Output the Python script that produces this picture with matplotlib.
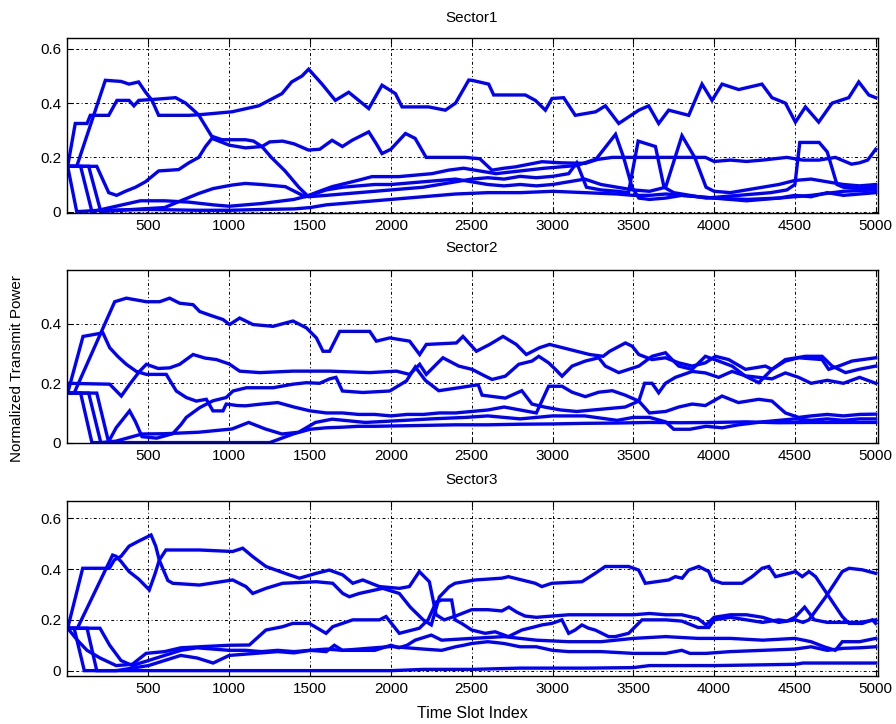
import matplotlib
matplotlib.use("Agg")
import matplotlib.pyplot as plt
from matplotlib.ticker import FuncFormatter

plt.rcParams['font.family'] = ['Liberation Sans', 'DejaVu Sans']

# ---------------- Sector 1 ----------------
S1_L1_X = [0, 56, 233, 330, 380, 439, 481, 522, 563, 687, 749, 811, 1017, 1182, 1326, 1386, 1450, 1491, 1574, 1656,
           1739, 1863, 1945, 2028, 2069, 2234, 2337, 2400, 2482, 2502, 2605, 2636, 2832, 2894, 2956, 2997, 3069, 3141,
           3267, 3327, 3410, 3534, 3595, 3657, 3719, 3843, 3925, 3987, 4049, 4152, 4296, 4358, 4441, 4503, 4565, 4647,
           4730, 4833, 4895, 4957, 5000]
S1_L1_Y = [0.167, 0.167, 0.484, 0.48, 0.47, 0.478, 0.441, 0.41, 0.355, 0.355, 0.355, 0.357, 0.368, 0.39, 0.435, 0.478,
           0.50, 0.525, 0.47, 0.41, 0.44, 0.38, 0.466, 0.435, 0.386, 0.386, 0.374, 0.40, 0.485, 0.484, 0.47, 0.43, 0.43,
           0.41, 0.374, 0.417, 0.42, 0.355, 0.368, 0.39, 0.325, 0.374, 0.39, 0.325, 0.374, 0.355, 0.47, 0.41, 0.47,
           0.45, 0.47, 0.42, 0.40, 0.33, 0.386, 0.33, 0.40, 0.42, 0.478, 0.43, 0.42]
S1_L2_X = [0, 47, 120, 140, 254, 305, 380, 410, 440, 560, 668, 730, 810, 891, 955, 1100, 1150, 1202, 1250, 1330,
           1400, 1490, 1560, 1636, 1700, 1760, 1863, 1910, 1945, 2000, 2090, 2150, 2218, 2300, 2461, 2550, 2625, 2700,
           2770, 2935, 3050, 3203, 3265, 3390, 3440, 3492, 3534, 3600, 3700, 3800, 3900, 4000, 4100, 4200, 4300, 4400,
           4500, 4600, 4700, 4800, 4900, 5000]
S1_L2_Y = [0.167, 0.325, 0.325, 0.355, 0.355, 0.41, 0.41, 0.39, 0.41, 0.415, 0.42, 0.40, 0.357, 0.278, 0.265, 0.265,
           0.26, 0.24, 0.257, 0.26, 0.25, 0.227, 0.23, 0.263, 0.24, 0.263, 0.294, 0.25, 0.214, 0.23, 0.288, 0.27, 0.2,
           0.2, 0.2, 0.195, 0.153, 0.16, 0.165, 0.184, 0.18, 0.178, 0.19, 0.285, 0.2, 0.09, 0.05, 0.045, 0.05, 0.06,
           0.055, 0.05, 0.045, 0.04, 0.045, 0.05, 0.06, 0.055, 0.07, 0.06, 0.065, 0.07]
S1_L3_X = [0, 180, 254, 303, 357, 420, 481, 563, 687, 750, 811, 853, 893, 1000, 1100, 1202, 1260, 1345, 1430, 1490,
           1600, 1700, 1800, 1900, 2000, 2100, 2200, 2300, 2400, 2500, 2600, 2700, 2800, 2900, 3000, 3100, 3150, 3210,
           3300, 3400, 3470, 3530, 3637, 3690, 3750, 3850, 3950, 4050, 4150, 4250, 4350, 4450, 4500, 4530, 4650, 4700,
           4760, 4800, 4900, 5000]
S1_L3_Y = [0.167, 0.167, 0.07, 0.06, 0.075, 0.09, 0.11, 0.15, 0.155, 0.18, 0.2, 0.24, 0.27, 0.245, 0.235, 0.24, 0.2,
           0.15, 0.09, 0.055, 0.06, 0.065, 0.07, 0.075, 0.08, 0.085, 0.09, 0.1, 0.11, 0.12, 0.125, 0.12, 0.13, 0.125,
           0.13, 0.14, 0.18, 0.09, 0.08, 0.075, 0.07, 0.26, 0.24, 0.09, 0.07, 0.06, 0.05, 0.055, 0.06, 0.065, 0.07,
           0.08, 0.1, 0.255, 0.255, 0.22, 0.1, 0.09, 0.085, 0.09]
S1_L4_X = [0, 130, 205, 400, 600, 700, 811, 900, 1017, 1099, 1200, 1347, 1470, 1553, 1636, 1800, 1883, 2048, 2254,
           2357, 2450, 2550, 2650, 2800, 2950, 3050, 3150, 3250, 3370, 3500, 3700, 3946, 4000, 4100, 4200, 4300, 4450,
           4550, 4650, 4750, 4850, 4900, 4950, 5000]
S1_L4_Y = [0.167, 0.167, 0.0, 0.008, 0.015, 0.04, 0.067, 0.085, 0.098, 0.104, 0.1, 0.092, 0.055, 0.074, 0.092, 0.116,
           0.129, 0.129, 0.14, 0.153, 0.16, 0.15, 0.14, 0.15, 0.16, 0.165, 0.17, 0.19, 0.2, 0.2, 0.2, 0.2, 0.185, 0.19,
           0.185, 0.19, 0.2, 0.19, 0.19, 0.2, 0.175, 0.18, 0.19, 0.23]
S1_L5_X = [0, 80, 150, 300, 450, 600, 750, 900, 1000, 1200, 1400, 1500, 1600, 1700, 1800, 1900, 2000, 2100, 2200,
           2300, 2400, 2500, 2600, 2700, 2800, 2900, 3000, 3100, 3200, 3300, 3400, 3500, 3600, 3700, 3801, 3880, 3950,
           4000, 4100, 4200, 4300, 4400, 4500, 4600, 4700, 4800, 4900, 5000]
S1_L5_Y = [0.167, 0.167, 0.0, 0.02, 0.04, 0.04, 0.035, 0.025, 0.02, 0.03, 0.045, 0.06, 0.08, 0.09, 0.095, 0.1, 0.1,
           0.105, 0.11, 0.115, 0.12, 0.11, 0.1, 0.095, 0.1, 0.095, 0.1, 0.11, 0.12, 0.1, 0.09, 0.08, 0.075, 0.09, 0.28,
           0.2, 0.09, 0.075, 0.07, 0.08, 0.09, 0.1, 0.115, 0.12, 0.11, 0.1, 0.095, 0.1]
S1_L6_X = [0, 56, 200, 500, 800, 1000, 1200, 1400, 1500, 1600, 1800, 2000, 2200, 2400, 2600, 2800, 3000, 3200, 3400,
           3500, 3600, 3700, 3800, 3900, 4000, 4200, 4400, 4600, 4800, 5000]
S1_L6_Y = [0.167, 0.0, 0.005, 0.008, 0.005, 0.005, 0.008, 0.01, 0.015, 0.025, 0.035, 0.045, 0.055, 0.065, 0.07, 0.07,
           0.075, 0.07, 0.065, 0.06, 0.06, 0.065, 0.06, 0.055, 0.05, 0.045, 0.05, 0.06, 0.075, 0.08]

# ---------------- Sector 2 ----------------
S2_L1_X = [0, 40, 291, 363, 487, 569, 631, 693, 776, 817, 879, 961, 1002, 1064, 1147, 1271, 1394, 1477, 1539, 1580,
           1621, 1683, 1869, 1910, 1993, 2116, 2178, 2219, 2405, 2446, 2529, 2611, 2694, 2776, 2838, 2920, 2982, 3106,
           3230, 3313, 3354, 3451, 3493, 3534, 3616, 3699, 3781, 3864, 3946, 4008, 4090, 4194, 4317, 4358, 4441, 4523,
           4668, 4709, 4771, 4853, 5000]
S2_L1_Y = [0.167, 0.167, 0.475, 0.487, 0.475, 0.475, 0.487, 0.47, 0.465, 0.442, 0.43, 0.415, 0.398, 0.42, 0.398,
           0.392, 0.41, 0.387, 0.353, 0.308, 0.308, 0.375, 0.375, 0.342, 0.353, 0.342, 0.297, 0.331, 0.336, 0.358,
           0.308, 0.331, 0.358, 0.331, 0.297, 0.32, 0.331, 0.314, 0.297, 0.291, 0.308, 0.336, 0.325, 0.297, 0.28,
           0.286, 0.269, 0.258, 0.269, 0.291, 0.28, 0.247, 0.258, 0.247, 0.275, 0.286, 0.28, 0.247, 0.258, 0.275, 0.286]
S2_L2_X = [0, 95, 157, 218, 260, 311, 363, 425, 487, 610, 672, 734, 796, 858, 899, 961, 981, 1050, 1100, 1200, 1300,
           1400, 1500, 1600, 1700, 1800, 1900, 2000, 2100, 2200, 2300, 2400, 2500, 2600, 2700, 2800, 2900, 2976, 3059,
           3121, 3203, 3286, 3370, 3450, 3534, 3570, 3616, 3657, 3699, 3760, 3864, 3946, 4028, 4111, 4194, 4276, 4358,
           4441, 4523, 4600, 4700, 4800, 4900, 5000]
S2_L2_Y = [0.167, 0.358, 0.364, 0.37, 0.32, 0.29, 0.264, 0.24, 0.23, 0.23, 0.174, 0.152, 0.14, 0.146, 0.107, 0.107,
           0.13, 0.125, 0.124, 0.13, 0.135, 0.12, 0.107, 0.1, 0.1, 0.095, 0.095, 0.09, 0.095, 0.095, 0.1, 0.1, 0.105,
           0.11, 0.12, 0.11, 0.1, 0.19, 0.19, 0.17, 0.155, 0.17, 0.175, 0.16, 0.14, 0.2, 0.2, 0.168, 0.2, 0.22, 0.24,
           0.235, 0.22, 0.24, 0.225, 0.22, 0.215, 0.235, 0.22, 0.2, 0.21, 0.2, 0.22, 0.2]
S2_L3_X = [0, 260, 332, 384, 446, 487, 560, 631, 693, 776, 850, 920, 1000, 1064, 1188, 1394, 1621, 1869, 2034, 2116,
           2178, 2219, 2281, 2322, 2420, 2502, 2584, 2626, 2708, 2791, 2873, 2915, 2976, 3018, 3059, 3121, 3203, 3286,
           3327, 3410, 3472, 3534, 3616, 3699, 3740, 3781, 3864, 3946, 4028, 4111, 4194, 4276, 4358, 4441, 4565, 4668,
           4730, 4813, 4895, 5000]
S2_L3_Y = [0.2, 0.197, 0.157, 0.197, 0.241, 0.264, 0.25, 0.252, 0.264, 0.297, 0.285, 0.28, 0.265, 0.241, 0.236, 0.241,
           0.241, 0.236, 0.241, 0.23, 0.264, 0.23, 0.264, 0.286, 0.258, 0.247, 0.224, 0.213, 0.224, 0.264, 0.275, 0.291,
           0.269, 0.247, 0.224, 0.258, 0.275, 0.286, 0.258, 0.236, 0.247, 0.258, 0.291, 0.303, 0.28, 0.258, 0.247,
           0.291, 0.275, 0.258, 0.224, 0.202, 0.247, 0.28, 0.291, 0.291, 0.258, 0.236, 0.247, 0.258]
S2_L4_X = [0, 80, 150, 250, 300, 383, 420, 460, 550, 650, 700, 734, 817, 899, 981, 1023, 1106, 1271, 1394, 1477, 1559,
           1621, 1660, 1700, 1827, 1993, 2096, 2151, 2213, 2296, 2420, 2540, 2564, 2708, 2810, 2873, 2950, 3050, 3150,
           3250, 3350, 3450, 3534, 3600, 3700, 3781, 3864, 3946, 4049, 4150, 4276, 4358, 4441, 4523, 4600, 4700, 4800,
           4900, 5000]
S2_L4_Y = [0.167, 0.167, 0.0, 0.0, 0.05, 0.107, 0.07, 0.02, 0.015, 0.03, 0.06, 0.085, 0.118, 0.141, 0.152, 0.174,
           0.185, 0.185, 0.197, 0.202, 0.2, 0.215, 0.22, 0.174, 0.169, 0.174, 0.208, 0.255, 0.21, 0.175, 0.185, 0.195,
           0.16, 0.15, 0.175, 0.13, 0.12, 0.11, 0.105, 0.11, 0.115, 0.12, 0.14, 0.1, 0.105, 0.12, 0.13, 0.125, 0.157,
           0.135, 0.146, 0.14, 0.1, 0.085, 0.09, 0.095, 0.09, 0.095, 0.096]
S2_L5_X = [0, 130, 205, 300, 400, 460, 600, 811, 1017, 1120, 1223, 1326, 1429, 1533, 1636, 1842, 2048, 2250, 2461,
           2600, 2800, 3000, 3200, 3400, 3500, 3600, 3700, 3750, 3850, 3950, 4050, 4150, 4300, 4400, 4500, 4600, 4700,
           4800, 4900, 5000]
S2_L5_Y = [0.167, 0.167, 0.0, 0.005, 0.02, 0.029, 0.03, 0.035, 0.046, 0.068, 0.046, 0.029, 0.035, 0.068, 0.079, 0.068,
           0.074, 0.08, 0.085, 0.09, 0.08, 0.09, 0.09, 0.075, 0.085, 0.085, 0.07, 0.045, 0.045, 0.055, 0.05, 0.06, 0.07,
           0.075, 0.08, 0.075, 0.08, 0.075, 0.08, 0.08]
S2_L6_X = [0, 180, 254, 800, 1250, 1300, 1400, 1500, 1600, 1700, 1800, 1900, 2000, 2200, 2400, 2600, 2800, 3000, 3200,
           3400, 3600, 3800, 4000, 4200, 4400, 4600, 4800, 5000]
S2_L6_Y = [0.167, 0.167, 0.0, 0.0, 0.0, 0.01, 0.03, 0.045, 0.05, 0.052, 0.055, 0.055, 0.056, 0.058, 0.06, 0.06, 0.062,
           0.063, 0.065, 0.066, 0.068, 0.067, 0.068, 0.07, 0.067, 0.068, 0.068, 0.068]

# ---------------- Sector 3 ----------------
S3_L1_X = [0, 93, 258, 289, 330, 380, 440, 516, 545, 567, 590, 620, 650, 815, 1021, 1103, 1145, 1227, 1330, 1537, 1640,
           1702, 1743, 1805, 1949, 2052, 2120, 2200, 2250, 2300, 2360, 2397, 2521, 2686, 2727, 2893, 2934, 2996, 3182,
           3264, 3326, 3471, 3533, 3574, 3719, 3760, 3802, 3843, 3905, 3967, 3988, 4050, 4173, 4235, 4297, 4339, 4380,
           4463, 4504, 4545, 4587, 4628, 4690, 4793, 4835, 4917, 4979, 5000]
S3_L1_Y = [0.167, 0.403, 0.403, 0.436, 0.45, 0.49, 0.51, 0.534, 0.49, 0.435, 0.40, 0.355, 0.344, 0.337, 0.357, 0.331,
           0.304, 0.324, 0.344, 0.35, 0.344, 0.304, 0.291, 0.304, 0.324, 0.304, 0.25, 0.2, 0.18, 0.29, 0.33, 0.344,
           0.357, 0.364, 0.37, 0.344, 0.331, 0.344, 0.35, 0.383, 0.41, 0.41, 0.396, 0.344, 0.357, 0.37, 0.364, 0.396,
           0.41, 0.39, 0.357, 0.344, 0.344, 0.37, 0.403, 0.41, 0.37, 0.383, 0.39, 0.37, 0.39, 0.37, 0.311, 0.213, 0.186,
           0.186, 0.2, 0.186]
S3_L2_X = [0, 60, 278, 300, 330, 380, 440, 505, 540, 567, 608, 815, 1021, 1083, 1145, 1227, 1372, 1434, 1537, 1619,
           1702, 1764, 1826, 1929, 2052, 2114, 2176, 2238, 2280, 2330, 2400, 2500, 2600, 2686, 2730, 2780, 2830, 2900,
           3000, 3100, 3200, 3300, 3400, 3500, 3600, 3700, 3800, 3900, 3950, 4000, 4100, 4200, 4300, 4400, 4500, 4550,
           4587, 4690, 4793, 4835, 4917, 5000]
S3_L2_Y = [0.167, 0.167, 0.455, 0.45, 0.43, 0.39, 0.36, 0.318, 0.38, 0.435, 0.475, 0.475, 0.469, 0.482, 0.449, 0.41,
           0.377, 0.364, 0.383, 0.396, 0.377, 0.344, 0.357, 0.331, 0.324, 0.331, 0.39, 0.35, 0.22, 0.2, 0.215, 0.24,
           0.24, 0.235, 0.25, 0.23, 0.215, 0.21, 0.215, 0.22, 0.22, 0.22, 0.22, 0.22, 0.225, 0.22, 0.22, 0.205, 0.18,
           0.21, 0.22, 0.22, 0.21, 0.19, 0.2, 0.19, 0.2, 0.29, 0.39, 0.403, 0.397, 0.383]
S3_L3_X = [0, 60, 120, 200, 300, 400, 485, 600, 700, 815, 1000, 1124, 1227, 1330, 1392, 1495, 1599, 1640, 1764, 1929,
           1970, 2052, 2176, 2230, 2280, 2314, 2376, 2397, 2438, 2500, 2583, 2645, 2727, 2810, 2893, 2934, 2996, 3058,
           3100, 3140, 3182, 3223, 3264, 3347, 3388, 3471, 3554, 3600, 3700, 3800, 3900, 3967, 4000, 4100, 4200, 4300,
           4400, 4450, 4500, 4560, 4620, 4700, 4800, 4900, 5000]
S3_L3_Y = [0.167, 0.12, 0.08, 0.05, 0.02, 0.025, 0.068, 0.075, 0.09, 0.094, 0.1, 0.101, 0.16, 0.173, 0.186, 0.186,
           0.147, 0.173, 0.2, 0.2, 0.213, 0.147, 0.167, 0.2, 0.27, 0.278, 0.278, 0.2, 0.186, 0.16, 0.147, 0.153, 0.134,
           0.16, 0.173, 0.18, 0.186, 0.2, 0.147, 0.16, 0.18, 0.167, 0.16, 0.134, 0.134, 0.147, 0.2, 0.2, 0.2, 0.195,
           0.17, 0.17, 0.2, 0.21, 0.2, 0.19, 0.2, 0.195, 0.21, 0.25, 0.2, 0.19, 0.19, 0.19, 0.2]
S3_L4_X = [0, 200, 260, 330, 400, 500, 600, 700, 800, 900, 1000, 1100, 1200, 1300, 1400, 1500, 1600, 1650, 1700, 1800,
           1900, 2000, 2050, 2100, 2150, 2250, 2314, 2500, 2700, 2900, 3100, 3300, 3500, 3700, 3900, 4100, 4300, 4500,
           4600, 4680, 4750, 4793, 4900, 5000]
S3_L4_Y = [0.167, 0.167, 0.1, 0.04, 0.02, 0.04, 0.06, 0.08, 0.09, 0.085, 0.08, 0.08, 0.075, 0.08, 0.075, 0.08, 0.075,
           0.1, 0.08, 0.08, 0.08, 0.1, 0.09, 0.1, 0.12, 0.14, 0.12, 0.127, 0.134, 0.12, 0.114, 0.114, 0.127, 0.134,
           0.127, 0.127, 0.12, 0.127, 0.114, 0.094, 0.08, 0.114, 0.114, 0.127]
S3_L5_X = [0, 120, 180, 300, 500, 600, 700, 800, 900, 1000, 1100, 1200, 1300, 1400, 1500, 1600, 1700, 1800, 1900,
           2000, 2100, 2200, 2314, 2400, 2450, 2500, 2600, 2700, 2800, 2900, 3000, 3100, 3300, 3500, 3700, 3800, 3850,
           3950, 4100, 4300, 4500, 4600, 4700, 4800, 4900, 5000]
S3_L5_Y = [0.167, 0.167, 0.0, 0.0, 0.02, 0.04, 0.06, 0.05, 0.03, 0.06, 0.065, 0.07, 0.075, 0.07, 0.08, 0.085, 0.08,
           0.085, 0.09, 0.095, 0.09, 0.085, 0.08, 0.094, 0.1, 0.107, 0.114, 0.107, 0.094, 0.094, 0.08, 0.075, 0.075,
           0.068, 0.068, 0.08, 0.068, 0.068, 0.075, 0.08, 0.085, 0.094, 0.08, 0.088, 0.09, 0.094]
S3_L6_X = [0, 40, 103, 2000, 2200, 2500, 2800, 3200, 3500, 3600, 4000, 4500, 4550, 5000]
S3_L6_Y = [0.167, 0.167, 0.0, 0.0, 0.005, 0.005, 0.01, 0.01, 0.012, 0.02, 0.02, 0.025, 0.03, 0.03]

TITLES = ["Sector1", "Sector2", "Sector3"]
X_TICKS = [500, 1000, 1500, 2000, 2500, 3000, 3500, 4000, 4500, 5000]
Y_TICKS = [[0, 0.2, 0.4, 0.6], [0, 0.2, 0.4], [0, 0.2, 0.4, 0.6]]
Y_LIMS = [(-0.005, 0.64), (-0.003, 0.582), (-0.021, 0.669)]

SECTORS = [
    [(S1_L1_X, S1_L1_Y), (S1_L2_X, S1_L2_Y), (S1_L3_X, S1_L3_Y), (S1_L4_X, S1_L4_Y), (S1_L5_X, S1_L5_Y), (S1_L6_X, S1_L6_Y)],
    [(S2_L1_X, S2_L1_Y), (S2_L2_X, S2_L2_Y), (S2_L3_X, S2_L3_Y), (S2_L4_X, S2_L4_Y), (S2_L5_X, S2_L5_Y), (S2_L6_X, S2_L6_Y)],
    [(S3_L1_X, S3_L1_Y), (S3_L2_X, S3_L2_Y), (S3_L3_X, S3_L3_Y), (S3_L4_X, S3_L4_Y), (S3_L5_X, S3_L5_Y), (S3_L6_X, S3_L6_Y)],
]

W, H = 896, 724
fig = plt.figure(figsize=(W / 100, H / 100), dpi=100)

# axes boxes in pixels: (left, top, right, bottom)
boxes = [(66.7, 38, 878, 213), (66.7, 270, 878, 443.5), (66.7, 500.7, 878, 676)]
title_y = [18, 248, 480]

fmt = FuncFormatter(lambda v, _: "0" if abs(v) < 1e-9 else f"{v:g}")

for i, (l, t, r, b) in enumerate(boxes):
    ax = fig.add_axes([l / W, 1 - b / H, (r - l) / W, (b - t) / H])
    for xs, ys in SECTORS[i]:
        ax.plot(xs, ys, color=(0, 0, 1), linewidth=2.4, solid_joinstyle='miter')
    ax.set_xlim(-6, 5014)
    ax.set_ylim(*Y_LIMS[i])
    ax.set_xticks(X_TICKS)
    ax.set_yticks(Y_TICKS[i])
    ax.yaxis.set_major_formatter(fmt)
    ax.tick_params(direction='in', top=True, right=True, length=4, width=0.8,
                   labelsize=11, pad=4)
    ax.grid(True, color='black', linestyle=(0, (3, 2.5, 1, 2.5)), linewidth=0.7)
    for s in ax.spines.values():
        s.set_linewidth(1.0)
    fig.text(472 / W, 1 - title_y[i] / H, TITLES[i], ha='center', va='center', fontsize=11)

fig.text(17 / W, 1 - 368 / H, "Normalized Transmit Power", rotation=90, ha='center', va='center', fontsize=11)
fig.text(472 / W, 1 - 713 / H, "Time Slot Index", ha='center', va='center', fontsize=11.5)

fig.savefig("out.png", dpi=100)
